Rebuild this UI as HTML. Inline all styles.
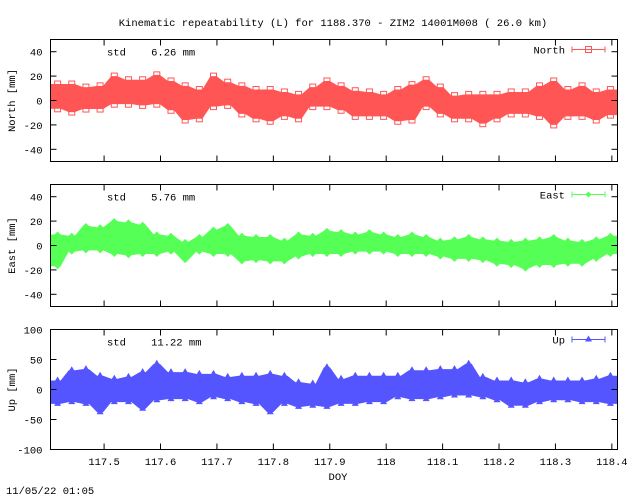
<!DOCTYPE html>
<html><head><meta charset="utf-8"><style>
body{margin:0;background:#fff}
svg text{font-family:"Liberation Mono",monospace;font-size:10.5px;fill:#000}
</style></head><body>
<svg id="c" width="640" height="496"></svg>
<script>
const xTicks=[117.5,117.6,117.7,117.8,117.9,118,118.1,118.2,118.3,118.4];
const xMin=117.405, xMax=118.41;
const northHigh=[13.5,13.5,11,12,20,17,17,21,16,12,9,20,15,12,9,9,7,5,11,16,12,8,7,5,9,13,17,11,4,5,5,5,7,7,12,16,9,12,7,9];
const northLow=[-6.8,-9.5,-7,-7,-3,-3,-4,-3,-8,-16,-15,-5,-4,-11,-15,-17,-13,-15,-5,-5,-8,-13,-13,-13,-17,-16,-5,-11,-15,-15,-19,-15,-11,-11,-13,-20,-13,-13,-16,-12];
const eastHigh=[9,8,16,15,20,19,17,9,8,3,7,13,16,8,7,7,4,9,8,12,11,9,11,9,7,9,7,4,5,7,5,4,3,4,5,7,4,3,5,8];
const eastLow=[-17,-5,-4,-4,-7,-8,-7,-7,-5,-12,-5,-7,-7,-13,-12,-13,-13,-9,-7,-7,-7,-5,-5,-5,-7,-7,-7,-9,-11,-11,-12,-15,-16,-19,-16,-16,-15,-15,-11,-7];
const upHigh=[15,32,34,23,18,21,29,43,29,29,26,26,21,23,23,26,23,12,10,37,18,23,23,23,23,32,32,34,34,43,21,15,15,12,18,15,15,15,18,23];
const upLow=[-24,-21,-24,-38,-21,-21,-32,-18,-16,-16,-21,-13,-16,-21,-24,-38,-24,-29,-27,-29,-24,-24,-21,-21,-13,-16,-16,-13,-10,-10,-13,-18,-27,-27,-21,-18,-18,-21,-21,-24];
const panels=[
 {name:'north',label:'North [mm]',legend:'North',std:'6.26',hi:northHigh,lo:northLow,yTicks:[-40,-20,0,20,40],yMin:-50,yMax:50,top:39.5,bot:161.5,col:'#ff5555',mk:'sq'},
 {name:'east',label:'East [mm]',legend:'East',std:'5.76',hi:eastHigh,lo:eastLow,yTicks:[-40,-20,0,20,40],yMin:-50,yMax:50,top:184.5,bot:306.5,col:'#55ff55',mk:'di'},
 {name:'up',label:'Up [mm]',legend:'Up',std:'11.22',hi:upHigh,lo:upLow,yTicks:[-100,-50,0,50,100],yMin:-100,yMax:100,top:329.5,bot:449.5,col:'#5555ff',mk:'tr'}];
const L=50.5,R=617.5,NS='http://www.w3.org/2000/svg',svg=document.getElementById('c');
function el(t,a,p){const e=document.createElementNS(NS,t);for(const k in a)e.setAttribute(k,a[k]);(p||svg).appendChild(e);return e;}
function tx(x,y,s,a,p){const e=el('text',Object.assign({x:x,y:y},a||{}),p);e.textContent=s;return e;}
const sx=v=>L+(v-xMin)/(xMax-xMin)*(R-L);
function marker(g,t,x,y,c){let e;
 if(t==='sq')e=el('rect',{x:x-3,y:y-3,width:6,height:6,fill:'none',stroke:c},g);
 else if(t==='di')e=el('path',{d:`M${x} ${y-3}L${x+3} ${y}L${x} ${y+3}L${x-3} ${y}Z`,fill:c},g);
 else e=el('path',{d:`M${x} ${y-4}L${x+3.5} ${y+2}L${x-3.5} ${y+2}Z`,fill:c},g);
 }
let t=tx(333,26,'Kinematic repeatability (L) for 1188.370 - ZIM2 14001M008  ( 26.0 km)',{'text-anchor':'middle'});

panels.forEach((p,pi)=>{
 const sy=v=>p.bot-(v-p.yMin)/(p.yMax-p.yMin)*(p.bot-p.top);
 const g=el('g',{});
 // zero line
 let z=el('line',{x1:L,x2:R,y1:sy(0),y2:sy(0),stroke:'#000'},g);
 // band
 const n=p.hi.length,bx=i=>L+(i+0.5)/n*(R-L);
 let d='M'+L+' '+sy(p.hi[0]);
 p.hi.forEach((v,i)=>{d+=`L${bx(i)-3} ${sy(v)}L${bx(i)+3} ${sy(v)}`;});
 d+=`L${R} ${sy(p.hi[n-1])}L${R} ${sy(p.lo[n-1])}`;
 for(let i=n-1;i>=0;i--)d+=`L${bx(i)+3} ${sy(p.lo[i])}L${bx(i)-3} ${sy(p.lo[i])}`;
 d+=`L${L} ${sy(p.lo[0])}Z`;
 let b=el('path',{d:d,fill:p.col},g);
 p.hi.forEach((v,i)=>{marker(g,p.mk,bx(i),sy(v),p.col);marker(g,p.mk,bx(i),sy(p.lo[i]),p.col);});
 // frame
 let f=el('rect',{x:L,y:p.top,width:R-L,height:p.bot-p.top,fill:'none',stroke:'#000'},g);
 
 p.yTicks.forEach(v=>{const y=sy(v);
  el('line',{x1:L,x2:L+6,y1:y,y2:y,stroke:'#000'},g);el('line',{x1:R-6,x2:R,y1:y,y2:y,stroke:'#000'},g);
  let tl=tx(L-8,y+4,String(v),{'text-anchor':'end'},g);});
 xTicks.forEach(v=>{const x=sx(v);
  el('line',{x1:x,x2:x,y1:p.bot,y2:p.bot-6,stroke:'#000'},g);el('line',{x1:x,x2:x,y1:p.top,y2:p.top+6,stroke:'#000'},g);
  if(pi===2){let xl=tx(x,465,String(v),{'text-anchor':'middle'},g);}});
 let yl=tx(0,0,p.label,{'text-anchor':'middle',transform:`translate(15,${(p.top+p.bot)/2}) rotate(-90)`},g);
 
 let st=tx(107,p.top+16,'std    '+p.std+' mm',{'xml:space':'preserve'},g);st.style.whiteSpace='pre';
 
 const ly=p.top+10;
 let lt=tx(565,ly+4,p.legend,{'text-anchor':'end'},g);
 el('line',{x1:572,x2:605,y1:ly,y2:ly,stroke:p.col},g);el('line',{x1:572,x2:572,y1:ly-3,y2:ly+3,stroke:p.col},g);el('line',{x1:605,x2:605,y1:ly-3,y2:ly+3,stroke:p.col},g);
 marker(g,p.mk,588.5,ly,p.col);
});
let xt=tx(338,480,'DOY',{'text-anchor':'middle'});
let dt=tx(6,494,'11/05/22 01:05');
</script>
</body></html>
